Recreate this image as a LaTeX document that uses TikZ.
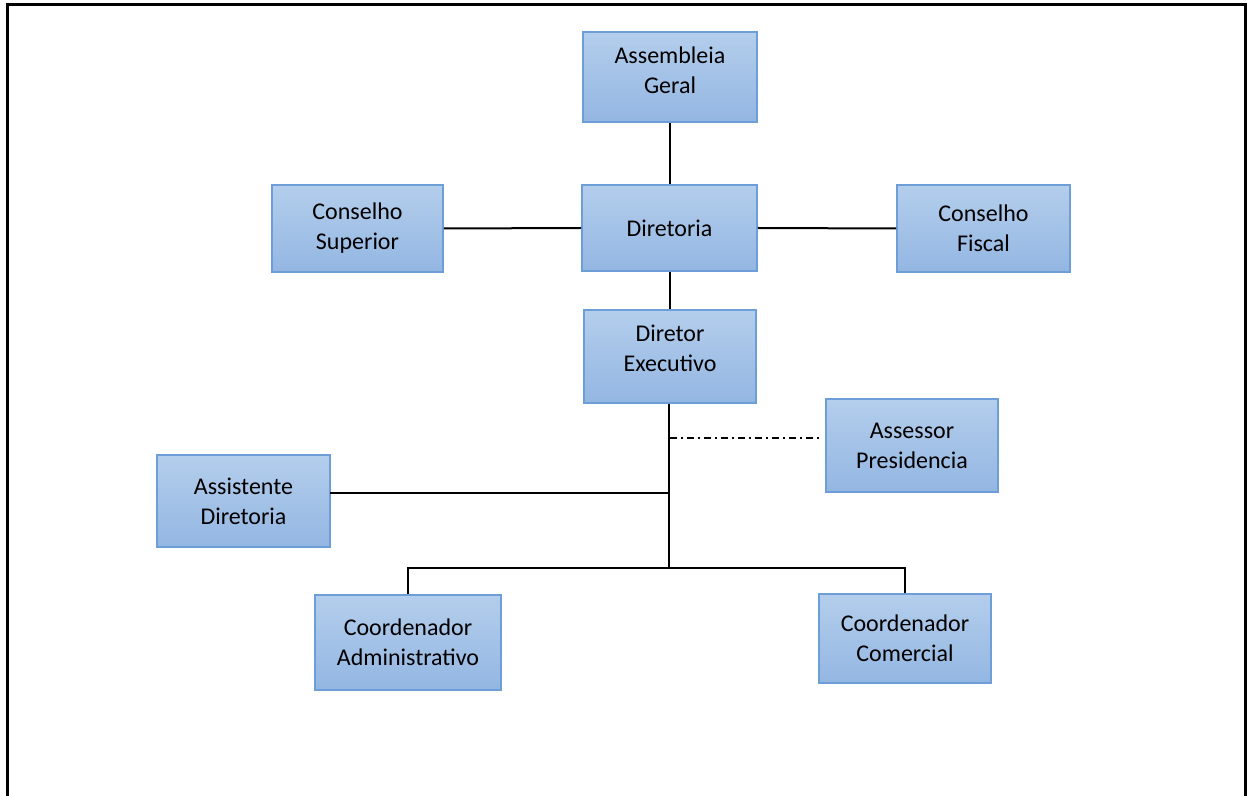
\documentclass[tikz,border=0pt]{standalone}
\usepackage{fontspec}
\setmainfont{Carlito}
\definecolor{boxtop}{HTML}{B4CEEC}
\definecolor{boxbot}{HTML}{93B6E2}
\definecolor{boxline}{HTML}{6D9ED7}
\begin{document}
\begin{tikzpicture}[x=0.5pt,y=-0.5pt,
  boxfont/.style={font=\fontsize{12}{15}\selectfont},
  box/.style 2 args={draw=boxline, line width=0.8pt, top color=boxtop, bottom color=boxbot,
    minimum width=#1*0.5pt, minimum height=#2*0.5pt, inner sep=0pt, align=center, boxfont},
  link/.style={draw=black, line width=1pt},
  aide/.style={draw=black, line width=1pt, dash pattern=on 3.5pt off 2pt on 1pt off 2pt},
  frame/.style={draw=black, line width=1.5pt, line join=miter}]
\useasboundingbox (0,0) rectangle (1248,796);
% outer frame, open at the bottom
\draw[frame] (7,796) -- (7,5) -- (1245,5) -- (1245,796);

% boxes
\node[box={174}{90}, label={[boxfont, align=center, yshift=3.5pt]center:Assembleia\\Geral}] (asm) at (670,77) {};
\node[box={175}{86}] (dir) at (669.5,228) {Diretoria};
\node[box={171}{87}] (csup) at (357.5,228.5) {Conselho\\Superior};
\node[box={173}{87}] (cfis) at (983.5,228.5) {Conselho\\Fiscal};
\node[box={172}{93}, label={[boxfont, align=center, yshift=4pt]center:Diretor\\Executivo}] (dex) at (670,356.5) {};
\node[box={172}{93}] (ass) at (912,445.5) {Assessor\\Presidencia};
\node[box={173}{92}] (asd) at (243.5,501) {Assistente\\Diretoria};
\node[box={186}{95}] (cadm) at (408,642.5) {Coordenador\\Administrativo};
\node[box={172}{89}] (ccom) at (905,638.5) {Coordenador\\Comercial};

% junction points on the trunk below the executive director
\coordinate (hub) at (669,568);
\coordinate (aidestart) at (670,438);
\coordinate (aideend) at (820,438);
\coordinate (asdtap) at (330,493);

% connectors
\draw[link] (asm.south) -- (asm.south |- dir.north);
\draw[link] (csup.east) -- (dir.west);
\draw[link] (dir.east) -- (cfis.west);
\draw[link] (dir.south) -- (dir.south |- dex.north);
\draw[link] (dex.south -| hub) -- (hub);
\draw[link] (asdtap) -- (asdtap -| hub);
\draw[aide] (aidestart) -- (aideend);
\draw[link] (cadm.north) |- (hub);
\draw[link] (ccom.north) |- (hub);
\end{tikzpicture}
\end{document}
